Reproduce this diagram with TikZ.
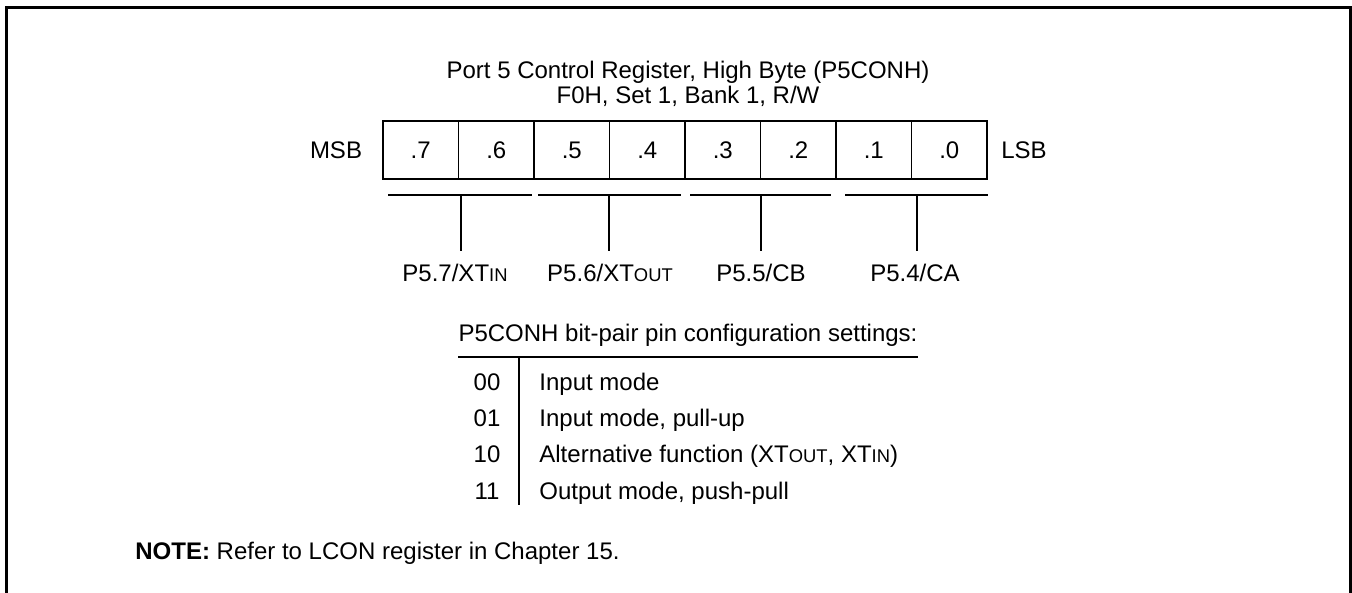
\documentclass[tikz,border=0pt]{standalone}
\usepackage{fontspec}
\setmainfont{Liberation Sans}
\newcommand{\smcap}[1]{{\fontsize{9.2}{10}\selectfont #1}}
\begin{document}
\begin{tikzpicture}[x=0.5pt,y=-0.5pt,
  font=\fontsize{12}{14}\selectfont,
  cell/.style={draw, line width=0.9pt, minimum width=37.75pt, minimum height=29pt, inner sep=0pt},
  ln/.style={line width=0.8pt},
  txt/.style={inner sep=0pt, anchor=base},
  txtw/.style={inner sep=0pt, anchor=base west}]
\useasboundingbox (0,0) rectangle (1352,593);
% frame
\draw[line width=1.5pt] (6,593) -- (6,7.5) -- (1350.5,7.5) -- (1350.5,593);
% title
\node[txt] (t1) at (688,79) {Port 5 Control Register, High Byte (P5CONH)};
\node[txt] (t2) at (688,104) {F0H, Set 1, Bank 1, R/W};
% register cells
\foreach \i/\b in {0/7,1/6,2/5,3/4,4/3,5/2,6/1,7/0} {
  \node[cell] (c\b) at ({383+75.5*(\i+0.5)},150) {.\b};
}
\node[txt] (msb) at (336,158.6) {MSB};
\node[txt] (lsb) at (1024,158.6) {LSB};
% bracket lines
\coordinate (b7l) at (388,195); \coordinate (b7r) at (532,195);
\coordinate (b6l) at (538,195); \coordinate (b6r) at (681,195);
\coordinate (b5l) at (690,195); \coordinate (b5r) at (831,195);
\coordinate (b4l) at (845,195); \coordinate (b4r) at (988,195);
\draw[ln] (b7l) -- (b7r);
\draw[ln] (b6l) -- (b6r);
\draw[ln] (b5l) -- (b5r);
\draw[ln] (b4l) -- (b4r);
\coordinate (k7) at (461,195); \coordinate (e7) at (461,251);
\coordinate (k6) at (609,195); \coordinate (e6) at (609,251);
\coordinate (k5) at (761,195); \coordinate (e5) at (761,251);
\coordinate (k4) at (917,195); \coordinate (e4) at (917,251);
\draw[ln] (k7) -- (e7);
\draw[ln] (k6) -- (e6);
\draw[ln] (k5) -- (e5);
\draw[ln] (k4) -- (e4);
\node[txt] (p7) at (455,281) {P5.7/XT\smcap{IN}};
\node[txt] (p6) at (610,281) {P5.6/XT\smcap{OUT}};
\node[txt] (p5) at (761,281) {P5.5/CB};
\node[txt] (p4) at (915,281) {P5.4/CA};
% settings table
\node[txt] (hdr) at (688,341) {P5CONH bit-pair pin configuration settings:};
\coordinate (hl) at (458,357); \coordinate (hr) at (918,357);
\draw[ln] (hl) -- (hr);
\coordinate (vt) at (519,357); \coordinate (vb) at (519,505);
\draw[ln] (vt) -- (vb);
\node[txt] (k00) at (487,390) {00};
\node[txt] (k01) at (487,426) {01};
\node[txt] (k10) at (487,462.5) {10};
\node[txt] (k11) at (487,499) {11};
\node[txtw] (d00) at (539,390) {Input mode};
\node[txtw] (d01) at (539,426) {Input mode, pull-up};
\node[txtw] (d10) at (539,462.5) {Alternative function (XT\smcap{OUT}, XT\smcap{IN})};
\node[txtw] (d11) at (539,499) {Output mode, push-pull};
% note
\node[txtw] (note) at (135,559) {\textbf{NOTE:} Refer to LCON register in Chapter 15.};
\end{tikzpicture}
\end{document}
